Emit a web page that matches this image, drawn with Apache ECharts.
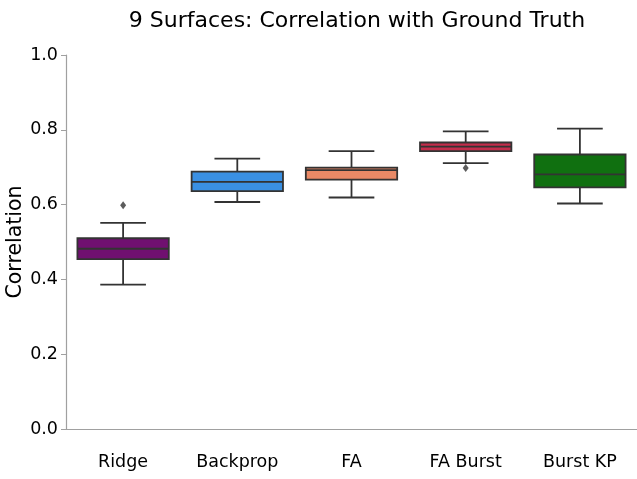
<!DOCTYPE html>
<html>
<head>
<meta charset="utf-8">
<script src="https://cdn.jsdelivr.net/npm/echarts@6/dist/echarts.min.js"></script>
<style>
  html, body { margin: 0; padding: 0; background: #fff; }
  #chart { width: 637px; height: 479px; }
</style>
</head>
<body>
<div id="chart"></div>
<script>
// Model names along the x axis
const categories = ['Ridge', 'Backprop', 'FA', 'FA Burst', 'Burst KP'];
// Five-number summaries per model: lower whisker, Q1, median, Q3, upper whisker
const whiskerLow = [0.386, 0.607, 0.619, 0.711, 0.603];
const quartile1  = [0.454, 0.636, 0.667, 0.743, 0.646];
const medians    = [0.482, 0.661, 0.692, 0.755, 0.681];
const quartile3  = [0.510, 0.688, 0.699, 0.766, 0.734];
const whiskerHigh= [0.551, 0.723, 0.743, 0.796, 0.803];
// Points beyond the whiskers: [model index, value]
const outliers = [[0, 0.598], [3, 0.698]];
// Fill colours per model
const boxColors = ['#701070', '#3a90e3', '#e98966', '#c32d4b', '#107010'];
const yTicks = [0, 0.2, 0.4, 0.6, 0.8, 1.0];

const lineColor = '#333333';
const fontFamily = '"DejaVu Sans", sans-serif';

const boxData = categories.map((c, i) => [i, whiskerLow[i], quartile1[i], medians[i], quartile3[i], whiskerHigh[i]]);

function renderBox(params, api) {
  const idx = api.value(0);
  const band = api.size([1, 0])[0];
  const halfBox = band * 0.4;
  const halfCap = band * 0.2;
  const pLow = api.coord([idx, api.value(1)]);
  const pQ1 = api.coord([idx, api.value(2)]);
  const pMed = api.coord([idx, api.value(3)]);
  const pQ3 = api.coord([idx, api.value(4)]);
  const pHigh = api.coord([idx, api.value(5)]);
  const x = pQ1[0];
  const stroke = { stroke: lineColor, lineWidth: 1.8 };
  return {
    type: 'group',
    children: [
      { type: 'line', shape: { x1: x, y1: pQ1[1], x2: x, y2: pLow[1] }, style: stroke },
      { type: 'line', shape: { x1: x, y1: pQ3[1], x2: x, y2: pHigh[1] }, style: stroke },
      { type: 'line', shape: { x1: x - halfCap, y1: pLow[1], x2: x + halfCap, y2: pLow[1] }, style: stroke },
      { type: 'line', shape: { x1: x - halfCap, y1: pHigh[1], x2: x + halfCap, y2: pHigh[1] }, style: stroke },
      { type: 'rect', shape: { x: x - halfBox, y: pQ3[1], width: halfBox * 2, height: pQ1[1] - pQ3[1] },
        style: { fill: boxColors[idx], stroke: lineColor, lineWidth: 1.8 } },
      { type: 'line', shape: { x1: x - halfBox, y1: pMed[1], x2: x + halfBox, y2: pMed[1] }, style: stroke }
    ]
  };
}

const chart = echarts.init(document.getElementById('chart'), null, { renderer: 'canvas' });
chart.setOption({
  animation: false,
  backgroundColor: '#fff',
  title: {
    text: '9 Surfaces: Correlation with Ground Truth',
    left: 352, top: 5, textAlign: 'center',
    textStyle: { fontFamily, fontSize: 22, fontWeight: 'normal', color: '#000' }
  },
  grid: { left: 66, right: 0, top: 55, bottom: 50, containLabel: false, outerBoundsMode: 'none' },
  xAxis: {
    type: 'category',
    data: categories,
    axisLine: { lineStyle: { color: '#a0a0a0', width: 1.2 } },
    axisTick: { alignWithLabel: true, length: 5, lineStyle: { color: '#a0a0a0' } },
    axisLabel: { color: '#000', fontFamily, fontSize: 17.5, margin: 24 }
  },
  yAxis: {
    type: 'value',
    min: yTicks[0], max: yTicks[yTicks.length - 1], interval: 0.2,
    name: 'Correlation',
    nameLocation: 'middle',
    nameGap: 40,
    nameMoveOverlap: false,
    nameTextStyle: { fontFamily, fontSize: 20.5, color: '#000' },
    axisLine: { show: true, lineStyle: { color: '#a0a0a0', width: 1.2 } },
    axisTick: { show: true, length: 5, lineStyle: { color: '#a0a0a0' } },
    splitLine: { show: false },
    axisLabel: { color: '#000', fontFamily, fontSize: 17.5, margin: 8, formatter: v => v.toFixed(1) }
  },
  series: [
    {
      type: 'custom',
      renderItem: renderBox,
      encode: { x: 0, y: [1, 2, 3, 4, 5] },
      data: boxData
    },
    {
      type: 'scatter',
      symbol: 'diamond',
      symbolSize: [6, 8],
      itemStyle: { color: lineColor },
      data: outliers
    }
  ]
});
</script>
</body>
</html>
